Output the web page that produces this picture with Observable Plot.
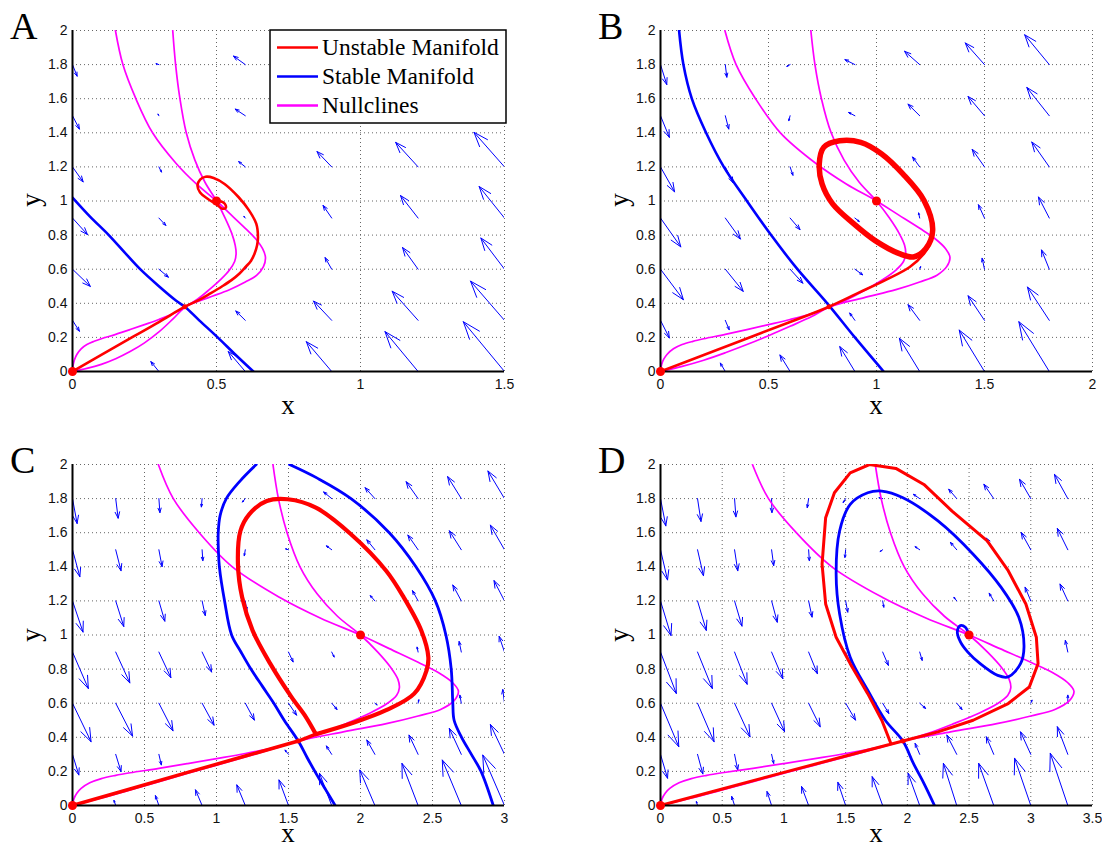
<!DOCTYPE html>
<html><head><meta charset="utf-8">
<script src="https://cdn.jsdelivr.net/npm/d3@7"></script>
<script src="https://cdn.jsdelivr.net/npm/@observablehq/plot@0.6"></script>
<style>
body{margin:0;background:#fff;}
#wrap{position:relative;width:1102px;height:848px;overflow:hidden;background:#fff;}
.panel{position:absolute;}
.overlay{position:absolute;left:0;top:0;pointer-events:none;}
</style>
</head><body><div id="wrap"></div>
<script>
// ---------- tick values ----------
const yTicks = [0,0.2,0.4,0.6,0.8,1,1.2,1.4,1.6,1.8,2];
const xTicksA = [0,0.5,1,1.5];
const xTicksB = [0,0.5,1,1.5,2];
const xTicksC = [0,0.5,1,1.5,2,2.5,3];
const xTicksD = [0,0.5,1,1.5,2,2.5,3,3.5];
const panelLetters = ["A","B","C","D"];
const legendLabels = ["Unstable Manifold","Stable Manifold","Nullclines"];

// ---------- quiver fields: [x, y, dx, dy] ----------
const quiverA = [
 [0,1.8,0.016,-0.068],[0,1.5,0.024,-0.078],[0,1.2,0.037,-0.088],[0,0.9,0.052,-0.097],[0,0.6,0.062,-0.101],[0,0.3,0.024,-0.064],
 [0.3,1.8,-0.01,0.005],[0.3,1.5,-0.003,0.01],[0.3,1.2,0.009,-0.03],[0.3,0.9,0.024,-0.043],[0.3,0.6,0.033,-0.047],[0.3,0,-0.028,0.058],
 [0.6,1.8,-0.041,0.05],[0.6,1.5,-0.035,0.039],[0.6,1.2,-0.023,0.031],[0.6,0.9,-0.005,0.01],[0.6,0.6,0.004,0.012],[0.6,0.3,-0.033,0.055],[0.6,0,-0.059,0.117],
 [0.9,1.2,-0.051,0.09],[0.9,0.9,-0.03,0.074],[0.9,0.6,-0.023,0.068],[0.9,0.3,-0.063,0.113],[0.9,0,-0.088,0.175],
 [1.2,1.2,-0.078,0.144],[1.2,0.9,-0.061,0.132],[1.2,0.6,-0.054,0.127],[1.2,0.3,-0.09,0.171],[1.2,0,-0.115,0.234],
 [1.5,1.2,-0.106,0.203],[1.5,0.9,-0.088,0.185],[1.5,0.6,-0.082,0.183],[1.5,0.3,-0.118,0.23],[1.5,0,-0.143,0.292]
];
const quiverB = [
 [0,1.8,0.029,-0.117],[0,1.5,0.041,-0.127],[0,1.2,0.065,-0.146],[0,0.9,0.094,-0.169],[0,0.6,0.106,-0.179],[0,0.3,0.041,-0.103],
 [0.3,1.8,0.007,-0.074],[0.3,1.5,0.016,-0.078],[0.3,1.2,0.036,-0.093],[0.3,0.9,0.07,-0.123],[0.3,0.6,0.083,-0.13],[0.3,0.3,0.018,-0.055],[0.3,0,-0.023,0.049],
 [0.6,1.8,-0.015,-0.01],[0.6,1.5,-0.006,-0.029],[0.6,1.2,0.013,-0.049],[0.6,0.9,0.046,-0.068],[0.6,0.6,0.059,-0.082],[0.6,0,-0.047,0.097],
 [0.9,1.8,-0.046,0.029],[0.9,1.5,-0.029,0.019],[0.9,0.9,0.02,-0.02],[0.9,0.6,0.036,-0.033],[0.9,0.3,-0.024,0.043],[0.9,0,-0.07,0.146],
 [1.2,1.8,-0.07,0.078],[1.2,1.5,-0.054,0.068],[1.2,1.2,-0.033,0.058],[1.2,0.9,-0.005,0.03],[1.2,0.6,0.004,0.015],[1.2,0.3,-0.054,0.092],[1.2,0,-0.094,0.195],
 [1.5,1.8,-0.089,0.127],[1.5,1.5,-0.076,0.113],[1.5,1.2,-0.057,0.103],[1.5,0.9,-0.028,0.078],[1.5,0.6,-0.011,0.064],[1.5,0.3,-0.076,0.144],[1.5,0,-0.117,0.243],
 [1.8,1.8,-0.114,0.175],[1.8,1.5,-0.104,0.166],[1.8,1.2,-0.081,0.146],[1.8,0.9,-0.05,0.123],[1.8,0.6,-0.036,0.113],[1.8,0.3,-0.101,0.195],[1.8,0,-0.141,0.292]
];
const quiverC = [
 [0,1.8,0.032,-0.146],[0,1.5,0.051,-0.158],[0,1.2,0.073,-0.183],[0,0.9,0.11,-0.214],[0,0.6,0.129,-0.226],[0,0.3,0.044,-0.121],
 [0.3,1.8,0.017,-0.115],[0.3,1.5,0.037,-0.123],[0.3,1.2,0.056,-0.15],[0.3,0.9,0.098,-0.181],[0.3,0.6,0.117,-0.193],[0.3,0.3,0.037,-0.101],[0.3,0,-0.012,0.03],
 [0.6,1.8,0.007,-0.082],[0.6,1.5,0.022,-0.099],[0.6,1.2,0.041,-0.119],[0.6,0.9,0.083,-0.15],[0.6,0.6,0.098,-0.162],[0.6,0.3,0.017,-0.062],[0.6,0,-0.024,0.058],
 [0.9,1.8,-0.005,-0.049],[0.9,1.5,0.005,-0.064],[0.9,1.2,0.022,-0.086],[0.9,0.9,0.066,-0.117],[0.9,0.6,0.083,-0.129],[0.9,0,-0.046,0.092],
 [1.2,1.8,-0.02,-0.02],[1.2,1.5,-0.007,-0.035],[1.2,1.2,0.01,-0.056],[1.2,0.6,0.063,-0.099],[1.2,0,-0.059,0.121],
 [1.5,1.5,-0.02,0.005],[1.5,0.9,0.032,-0.058],[1.5,0.6,0.056,-0.07],[1.5,0.3,-0.024,0.025],[1.5,0,-0.066,0.15],
 [1.8,1.8,-0.056,0.039],[1.8,1.5,-0.037,0.023],[1.8,0.9,0.017,-0.029],[1.8,0.6,0.037,-0.037],[1.8,0.3,-0.037,0.049],[1.8,0,-0.085,0.189],
 [2.1,1.8,-0.068,0.064],[2.1,1.5,-0.056,0.058],[2.1,1.2,-0.032,0.031],[2.1,0.6,0.015,-0.01],[2.1,0.3,-0.056,0.084],[2.1,0,-0.105,0.208],
 [2.4,1.8,-0.083,0.099],[2.4,1.5,-0.071,0.086],[2.4,1.2,-0.039,0.06],[2.4,0.9,-0.007,0.029],[2.4,0.6,0.005,0.02],[2.4,0.3,-0.063,0.113],[2.4,0,-0.112,0.247],
 [2.7,1.8,-0.095,0.129],[2.7,1.5,-0.083,0.111],[2.7,1.2,-0.059,0.093],[2.7,0.9,-0.015,0.062],[2.7,0.6,-0.01,0.047],[2.7,0.3,-0.083,0.152],[2.7,0,-0.132,0.267],
 [3,1.8,-0.115,0.162],[3,1.5,-0.098,0.144],[3,1.2,-0.073,0.119],[3,0.9,-0.037,0.092],[3,0.6,-0.012,0.08],[3,0.3,-0.098,0.175],[3,0,-0.151,0.296]
];
const quiverD = [
 [0,1.8,0.043,-0.16],[0,1.5,0.057,-0.177],[0,1.2,0.085,-0.203],[0,0.9,0.128,-0.243],[0,0.6,0.148,-0.255],[0,0.3,0.057,-0.14],
 [0.3,1.8,0.028,-0.134],[0.3,1.5,0.048,-0.152],[0.3,1.2,0.071,-0.173],[0.3,0.9,0.12,-0.214],[0.3,0.6,0.134,-0.226],[0.3,0.3,0.043,-0.115],[0.3,0,-0.009,0.023],
 [0.6,1.8,0.011,-0.107],[0.6,1.5,0.026,-0.123],[0.6,1.2,0.06,-0.148],[0.6,0.9,0.102,-0.189],[0.6,0.6,0.125,-0.197],[0.6,0.3,0.026,-0.092],[0.6,0,-0.023,0.053],
 [0.9,1.8,0.003,-0.082],[0.9,1.5,0.017,-0.093],[0.9,1.2,0.046,-0.125],[0.9,0.9,0.091,-0.156],[0.9,0.6,0.105,-0.167],[0.9,0.3,0.017,-0.053],[0.9,0,-0.037,0.082],
 [1.2,1.8,-0.011,-0.053],[1.2,1.5,0.006,-0.064],[1.2,1.2,0.028,-0.095],[1.2,0.9,0.071,-0.127],[1.2,0.6,0.094,-0.138],[1.2,0,-0.057,0.111],
 [1.5,1.8,-0.02,-0.023],[1.5,1.5,-0.006,-0.045],[1.5,1.2,0.017,-0.066],[1.5,0.9,0.037,-0.068],[1.5,0.6,0.08,-0.099],[1.5,0,-0.063,0.136],
 [1.8,1.8,-0.03,0.005],[1.8,1.5,-0.02,-0.01],[1.8,1.2,0.009,-0.037],[1.8,0.9,0.046,-0.078],[1.8,0.6,0.05,-0.06],[1.8,0,-0.085,0.169],
 [2.1,1.8,-0.051,0.025],[2.1,1.5,-0.037,0.018],[2.1,0.9,0.02,-0.049],[2.1,0.6,0.048,-0.031],[2.1,0.3,-0.037,0.064],[2.1,0,-0.094,0.189],
 [2.4,1.8,-0.065,0.055],[2.4,1.5,-0.051,0.043],[2.4,1.2,-0.023,0.021],[2.4,0.6,0.043,-0.037],[2.4,0.3,-0.08,0.113],[2.4,0,-0.108,0.247],
 [2.7,1.8,-0.08,0.084],[2.7,1.5,-0.06,0.068],[2.7,1.2,-0.037,0.045],[2.7,0.3,-0.06,0.103],[2.7,0,-0.122,0.247],
 [3,1.8,-0.091,0.113],[3,1.5,-0.077,0.101],[3,1.2,-0.046,0.08],[3,0.6,0.01,0.018],[3,0.3,-0.083,0.132],[3,0,-0.131,0.277],
 [3.3,1.8,-0.108,0.142],[3.3,1.5,-0.085,0.125],[3.3,1.2,-0.063,0.099],[3.3,0.9,-0.02,0.068],[3.3,0.6,0,0.047],[3.3,0.3,-0.085,0.162],[3.3,0,-0.142,0.306]
];

// ---------- nullclines [x, y] ----------
const nullOuterA = [[0.149,2],[0.175,1.8],[0.22,1.6],[0.278,1.4],[0.36,1.22],[0.43,1.1],[0.5,1],[0.55,0.92],[0.6,0.84],[0.635,0.78],[0.66,0.72],[0.67,0.67],[0.663,0.615],[0.64,0.565],[0.6,0.525],[0.545,0.48],[0.47,0.432],[0.393,0.38],[0.35,0.31],[0.3,0.232],[0.25,0.168],[0.2,0.117],[0.15,0.075],[0.1,0.042],[0.05,0.018],[0,0]];
const nullInnerA = [[0.348,2],[0.358,1.8],[0.373,1.6],[0.395,1.4],[0.425,1.24],[0.46,1.11],[0.5,1],[0.53,0.9],[0.553,0.81],[0.565,0.74],[0.568,0.69],[0.563,0.645],[0.545,0.595],[0.515,0.54],[0.475,0.48],[0.435,0.425],[0.393,0.38],[0.35,0.34],[0.3,0.305],[0.25,0.275],[0.2,0.246],[0.15,0.218],[0.1,0.192],[0.075,0.177],[0.05,0.158],[0.03,0.133],[0.015,0.1],[0.0075,0.072],[0.0025,0.04],[0,0]];
const nullOuterB = [[0.298,2],[0.35,1.8],[0.44,1.6],[0.555,1.4],[0.72,1.22],[0.86,1.1],[1,1],[1.1,0.92],[1.2,0.84],[1.27,0.78],[1.32,0.72],[1.34,0.67],[1.325,0.615],[1.28,0.565],[1.2,0.525],[1.09,0.48],[0.94,0.432],[0.785,0.38],[0.7,0.322],[0.6,0.265],[0.5,0.21],[0.4,0.158],[0.3,0.11],[0.2,0.066],[0.1,0.03],[0,0]];
const nullInnerB = [[0.696,2],[0.715,1.8],[0.745,1.6],[0.79,1.4],[0.85,1.24],[0.92,1.11],[1,1],[1.06,0.9],[1.105,0.81],[1.13,0.74],[1.135,0.69],[1.125,0.645],[1.09,0.595],[1.03,0.54],[0.95,0.48],[0.87,0.425],[0.785,0.38],[0.7,0.34],[0.6,0.305],[0.5,0.275],[0.4,0.246],[0.3,0.218],[0.2,0.192],[0.15,0.177],[0.1,0.158],[0.06,0.133],[0.03,0.1],[0.015,0.072],[0.005,0.04],[0,0]];
const nullOuterC = [[0.596,2],[0.7,1.8],[0.88,1.6],[1.11,1.4],[1.44,1.22],[1.72,1.1],[2,1],[2.2,0.92],[2.4,0.84],[2.54,0.78],[2.64,0.72],[2.68,0.67],[2.65,0.615],[2.56,0.565],[2.4,0.525],[2.18,0.48],[1.88,0.432],[1.57,0.378],[1.4,0.334],[1.2,0.285],[1,0.237],[0.8,0.189],[0.6,0.14],[0.4,0.092],[0.2,0.044],[0,0]];
const nullInnerC = [[1.392,2],[1.43,1.8],[1.49,1.6],[1.58,1.4],[1.7,1.24],[1.84,1.11],[2,1],[2.12,0.9],[2.21,0.81],[2.26,0.74],[2.27,0.69],[2.25,0.645],[2.18,0.595],[2.06,0.54],[1.9,0.48],[1.74,0.425],[1.57,0.378],[1.4,0.34],[1.2,0.305],[1,0.275],[0.8,0.246],[0.6,0.218],[0.4,0.192],[0.3,0.177],[0.2,0.158],[0.12,0.133],[0.06,0.1],[0.03,0.072],[0.01,0.04],[0,0]];
const nullOuterD = [[0.745,2],[0.875,1.8],[1.1,1.6],[1.388,1.4],[1.8,1.22],[2.15,1.1],[2.5,1],[2.75,0.92],[3,0.84],[3.175,0.78],[3.3,0.72],[3.35,0.67],[3.313,0.615],[3.2,0.565],[3,0.525],[2.725,0.48],[2.35,0.432],[1.964,0.378],[1.75,0.334],[1.5,0.285],[1.25,0.237],[1,0.189],[0.75,0.14],[0.5,0.092],[0.25,0.044],[0,0]];
const nullInnerD = [[1.74,2],[1.788,1.8],[1.863,1.6],[1.975,1.4],[2.125,1.24],[2.3,1.11],[2.5,1],[2.65,0.9],[2.763,0.81],[2.825,0.74],[2.838,0.69],[2.813,0.645],[2.725,0.595],[2.575,0.54],[2.375,0.48],[2.175,0.425],[1.964,0.378],[1.75,0.34],[1.5,0.305],[1.25,0.275],[1,0.246],[0.75,0.218],[0.5,0.192],[0.375,0.177],[0.25,0.158],[0.15,0.133],[0.075,0.1],[0.038,0.072],[0.013,0.04],[0,0]];

// ---------- unstable manifolds (red) ----------
const unstableA = [[0,0],[0.1,0.097],[0.2,0.194],[0.3,0.29],[0.39,0.38],[0.44,0.42],[0.479,0.458],[0.52,0.5],[0.552,0.536],[0.58,0.575],[0.601,0.613],[0.62,0.65],[0.632,0.691],[0.641,0.74],[0.644,0.789],[0.638,0.867],[0.613,0.945],[0.577,1.022],[0.528,1.1],[0.49,1.135],[0.462,1.142],[0.443,1.125],[0.434,1.09],[0.443,1.05],[0.468,1.015],[0.5,0.98],[0.52,0.955],[0.532,0.96],[0.528,0.985],[0.512,1],[0.5,1]];
const unstableB = [[0,0],[0.2,0.097],[0.4,0.194],[0.6,0.29],[0.78,0.38],[0.911,0.458],[1.041,0.536],[1.154,0.613],[1.22,0.691],[1.252,0.76],[1.262,0.83]];
const cycleB = [[1.26,0.828],[1.22,1.003],[1.122,1.159],[1.024,1.276],[0.927,1.344],[0.829,1.353],[0.756,1.315],[0.735,1.217],[0.748,1.1],[0.797,0.983],[0.894,0.867],[0.992,0.769],[1.106,0.691],[1.171,0.672],[1.228,0.72]];
const unstableC = [[0,0],[0.4,0.097],[0.8,0.194],[1.2,0.29],[1.568,0.378],[1.69,0.418]];
const cycleC = [[1.69,0.418],[1.934,0.481],[2.178,0.559],[2.373,0.656],[2.459,0.793],[2.471,0.87],[2.422,1.026],[2.3,1.221],[2.178,1.377],[1.934,1.591],[1.69,1.747],[1.495,1.796],[1.349,1.786],[1.227,1.708],[1.166,1.61],[1.149,1.416],[1.178,1.221],[1.251,1.026],[1.373,0.832],[1.52,0.637],[1.62,0.52],[1.69,0.418]];
const unstableD = [[0,0],[0.5,0.097],[1,0.194],[1.5,0.29],[1.964,0.378],[2.248,0.432],[2.533,0.5],[2.817,0.598],[2.988,0.695],[3.059,0.832],[3.045,0.987],[2.96,1.182],[2.817,1.377],[2.647,1.552],[2.362,1.727],[2.134,1.883],[1.907,1.977],[1.693,2],[1.537,1.951],[1.409,1.834],[1.338,1.688],[1.309,1.416],[1.338,1.182],[1.423,0.987],[1.537,0.832],[1.679,0.656],[1.793,0.5],[1.864,0.368]];

// ---------- stable manifolds (blue) ----------
const stableA = [[0,1.02],[0.06,0.91],[0.126,0.8],[0.18,0.7],[0.235,0.6],[0.3,0.5],[0.36,0.415],[0.39,0.38],[0.44,0.3],[0.504,0.2],[0.565,0.1],[0.628,0]];
const stableB = [[0.086,2],[0.106,1.8],[0.145,1.6],[0.211,1.4],[0.293,1.2],[0.4,1],[0.512,0.8],[0.634,0.6],[0.772,0.4],[0.9,0.2],[1.033,0]];
const stableC1 = [[1.276,2],[1.16,1.9],[1.068,1.8],[1.025,1.7],[1.012,1.6],[1.013,1.5],[1.02,1.4],[1.056,1.2],[1.105,1],[1.17,0.9],[1.239,0.8],[1.318,0.7],[1.398,0.6],[1.47,0.5],[1.568,0.378],[1.63,0.28],[1.69,0.19],[1.76,0.09],[1.824,0]];
const stableC2 = [[1.507,2],[1.7,1.92],[1.934,1.8],[2.2,1.6],[2.385,1.4],[2.52,1.2],[2.593,1],[2.63,0.8],[2.641,0.6],[2.65,0.5],[2.702,0.4],[2.77,0.3],[2.837,0.2],[2.922,0]];
const stableD = [[2.22,0],[2.134,0.13],[2.049,0.247],[1.964,0.378],[1.821,0.5],[1.679,0.676],[1.537,0.87],[1.451,1.124],[1.423,1.357],[1.451,1.61],[1.537,1.766],[1.679,1.834],[1.793,1.844],[1.964,1.805],[2.248,1.669],[2.533,1.474],[2.76,1.279],[2.903,1.104],[2.945,0.929],[2.917,0.832],[2.817,0.754],[2.732,0.763],[2.59,0.832],[2.49,0.9],[2.43,0.96],[2.405,1.02],[2.43,1.055],[2.47,1.045],[2.5,1]];

// ---------- fixed points ----------
const fixedA = [[0,0],[0.5,1]], saddleA = [[0.39,0.38]];
const fixedB = [[0,0],[1,1]], saddleB = [[0.78,0.38]];
const fixedC = [[0,0],[2,1]], saddleC = [[1.568,0.378]];
const fixedD = [[0,0],[2.5,1]], saddleD = [[1.964,0.378]];

const RED = "#ff0000", BLUE = "#0000ff", MAG = "#ff00ff";
const W = 551, H = 424;

function panel(cfg) {
  const grid = {stroke: "#555", strokeOpacity: 0.9, strokeWidth: 1, strokeDasharray: "1,3"};
  const xy = {x: d => d[0], y: d => d[1]};
  const marks = [
    Plot.gridX(cfg.xTicks, grid),
    Plot.gridY(yTicks, grid),
    Plot.axisX(cfg.xTicks, {tickSize: 0, tickPadding: 8, tickFormat: d => String(d), label: null}),
    Plot.axisY(yTicks, {tickSize: 0, tickPadding: 5, tickFormat: d => String(d), label: null}),
    Plot.arrow(cfg.quiver, {x1: d => d[0], y1: d => d[1], x2: d => d[0] + d[2], y2: d => d[1] + d[3],
      stroke: BLUE, strokeWidth: 1, headAngle: 40, headLength: 28, clip: true}),
    Plot.line(cfg.nullOuter, {...xy, stroke: MAG, strokeWidth: 1.7, curve: "catmull-rom", clip: true}),
    Plot.line(cfg.nullInner, {...xy, stroke: MAG, strokeWidth: 1.7, curve: "catmull-rom", clip: true}),
    ...cfg.stable.map(s => Plot.line(s, {...xy, stroke: BLUE, strokeWidth: cfg.blueW, curve: "catmull-rom", strokeLinejoin: "round", clip: true})),
    ...cfg.unstable.map(u => Plot.line(u.data, {...xy, stroke: RED, strokeWidth: u.w, curve: u.curve || "catmull-rom", strokeLinejoin: "round", strokeLinecap: "round", clip: true})),
    Plot.ruleX([0], {stroke: "#000", strokeWidth: 2}),
    Plot.ruleY([0], {stroke: "#000", strokeWidth: 2}),
    Plot.dot(cfg.saddle, {...xy, r: 2.5, fill: RED, stroke: "none"}),
    Plot.dot(cfg.fixed, {...xy, r: 4.5, fill: RED, stroke: "none"})
  ];
  return Plot.plot({
    width: W, height: H,
    marginLeft: cfg.m[0], marginRight: cfg.m[1], marginTop: cfg.m[2], marginBottom: cfg.m[3],
    x: {domain: [0, cfg.xMax]},
    y: {domain: [0, 2]},
    style: {fontFamily: "'Liberation Sans', Arial, Helvetica, sans-serif", fontSize: "14px", color: "#111", background: "transparent", overflow: "visible"},
    marks
  });
}

const panels = [
  {left: 0, top: 0, m: [72, 47, 30, 53], xMax: 1.5, xTicks: xTicksA, quiver: quiverA, nullOuter: nullOuterA, nullInner: nullInnerA,
   stable: [stableA], blueW: 2.6, unstable: [{data: unstableA, w: 2.6}], fixed: fixedA, saddle: saddleA},
  {left: 551, top: 0, m: [109, 10, 30, 53], xMax: 2, xTicks: xTicksB, quiver: quiverB, nullOuter: nullOuterB, nullInner: nullInnerB,
   stable: [stableB], blueW: 2.6, unstable: [{data: unstableB, w: 2.6}, {data: cycleB, w: 5.5, curve: "catmull-rom-closed"}], fixed: fixedB, saddle: saddleB},
  {left: 0, top: 424, m: [72, 47, 40, 43], xMax: 3, xTicks: xTicksC, quiver: quiverC, nullOuter: nullOuterC, nullInner: nullInnerC,
   stable: [stableC1, stableC2], blueW: 2.8, unstable: [{data: unstableC, w: 3.5, curve: "linear"}, {data: cycleC, w: 4.2}], fixed: fixedC, saddle: saddleC},
  {left: 551, top: 424, m: [109, 10, 40, 43], xMax: 3.5, xTicks: xTicksD, quiver: quiverD, nullOuter: nullOuterD, nullInner: nullInnerD,
   stable: [stableD], blueW: 2.8, unstable: [{data: unstableD, w: 3, curve: "linear"}], fixed: fixedD, saddle: saddleD}
];

const wrap = document.getElementById("wrap");
panels.forEach(p => {
  const div = document.createElement("div");
  div.className = "panel";
  div.style.left = p.left + "px";
  div.style.top = p.top + "px";
  div.appendChild(panel(p));
  wrap.appendChild(div);
});

// ---------- overlay: panel letters, axis labels, legend ----------
const serif = "'Liberation Serif', 'Times New Roman', Times, serif";
const letterPos = [[10, 39], [598, 39], [10, 473], [598, 473]];
const xLabelPos = [[288, 414], [876, 414], [288, 842], [876, 842]];
const yLabelPos = [[40, 200], [628, 200], [40, 635], [628, 635]];
let svg = `<svg class="overlay" width="1102" height="848" xmlns="http://www.w3.org/2000/svg" font-family="${serif}">`;
panelLetters.forEach((L, i) => {
  svg += `<text x="${letterPos[i][0]}" y="${letterPos[i][1]}" font-size="38">${L}</text>`;
  svg += `<text x="${xLabelPos[i][0]}" y="${xLabelPos[i][1]}" font-size="27" text-anchor="middle">x</text>`;
  svg += `<text transform="translate(${yLabelPos[i][0]},${yLabelPos[i][1]}) rotate(-90)" font-size="27" text-anchor="middle">y</text>`;
});
// legend box in panel A
const legColors = [RED, BLUE, MAG];
svg += `<rect x="270" y="30" width="236" height="93" fill="#fff" stroke="#000" stroke-width="1.5"/>`;
legendLabels.forEach((t, i) => {
  const cy = 47.5 + i * 29;
  svg += `<line x1="277" x2="318" y1="${cy}" y2="${cy}" stroke="${legColors[i]}" stroke-width="2.5"/>`;
  svg += `<text x="322" y="${cy + 7.5}" font-size="23.5">${t}</text>`;
});
svg += `</svg>`;
wrap.insertAdjacentHTML("beforeend", svg);
</script>
</body></html>
